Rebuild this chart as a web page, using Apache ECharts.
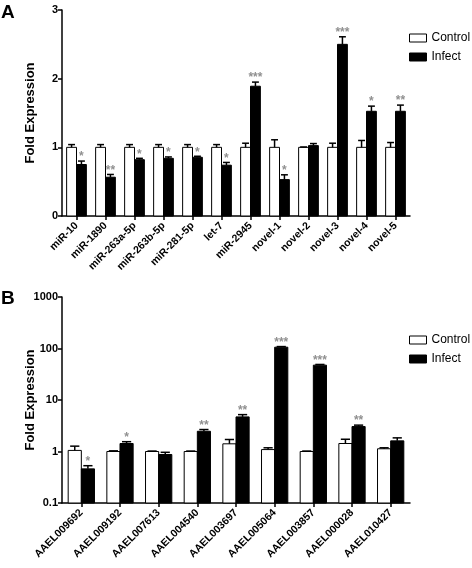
<!DOCTYPE html>
<html>
<head>
<meta charset="utf-8">
<script src="https://cdn.jsdelivr.net/npm/echarts@6/dist/echarts.min.js"></script>
<style>
html,body{margin:0;padding:0;background:#fff;}
#c{width:472px;height:568px;}
</style>
</head>
<body>
<div id="c"></div>
<script>
const catsA = ['miR-10','miR-1890','miR-263a-5p','miR-263b-5p','miR-281-5p','let-7','miR-2945','novel-1','novel-2','novel-3','novel-4','novel-5'];
const ctrlA = [1,1,1,1,1,1,1,1,1,1,1,1];
const ctrlErrA = [0.04,0.04,0.04,0.04,0.04,0.04,0.06,0.11,0.005,0.06,0.1,0.07];
const infA = [0.75,0.565,0.82,0.84,0.855,0.74,1.89,0.53,1.025,2.5,1.525,1.525];
const infErrA = [0.05,0.04,0.02,0.02,0.015,0.04,0.06,0.07,0.03,0.11,0.075,0.09];
const sigA = ['*','**','*','*','*','*','***','*','','***','*','**'];

const catsB = ['AAEL009692','AAEL009192','AAEL007613','AAEL004540','AAEL003697','AAEL005064','AAEL003857','AAEL000028','AAEL010427'];
const ctrlB = [1.05,1.0,1.0,1.0,1.41,1.09,1.0,1.43,1.13];
const ctrlErrB = [0.22,0.03,0.02,0.02,0.3,0.09,0.02,0.3,0.05];
const infB = [0.46,1.43,0.875,2.47,4.7,106,47.5,3.05,1.61];
const infErrB = [0.07,0.12,0.09,0.2,0.5,3,1.5,0.2,0.23];
const sigB = ['*','*','','**','**','***','***','**',''];

const FONT = 'Liberation Sans, Arial, sans-serif';
const BW = 0.34;

function barRender(side, base) {
  return function (params, api) {
    const idx = api.value(0), v = api.value(1);
    const top = api.coord([idx, v]);
    const bot = api.coord([idx, base]);
    const band = api.size([1, 0])[0];
    const bw = band * BW;
    const x = side < 0 ? top[0] - bw : top[0];
    return {
      type: 'rect',
      shape: { x: x, y: top[1], width: bw, height: bot[1] - top[1] },
      style: side < 0 ? { fill: '#fff', stroke: '#000', lineWidth: 1 } : { fill: '#000', stroke: '#000', lineWidth: 1 }
    };
  };
}
function errRender(side, sigs) {
  return function (params, api) {
    const idx = api.value(0), v = api.value(1), e = api.value(2);
    const band = api.size([1, 0])[0];
    const bw = band * BW;
    const top = api.coord([idx, v]);
    const cap = api.coord([idx, v + e]);
    const cx = top[0] + side * bw / 2;
    const cw = bw * 0.35;
    const children = [
      { type: 'line', shape: { x1: cx, y1: top[1], x2: cx, y2: cap[1] }, style: { stroke: '#000', lineWidth: 1.5 } },
      { type: 'line', shape: { x1: cx - cw, y1: cap[1], x2: cx + cw, y2: cap[1] }, style: { stroke: '#000', lineWidth: 1.5 } }
    ];
    const s = sigs ? sigs[idx] : '';
    if (s) {
      children.push({ type: 'text', x: cx, y: cap[1] - 4, style: { text: s, fill: '#909090', font: 'bold 12px ' + FONT, align: 'center', verticalAlign: 'middle' } });
    }
    return { type: 'group', children: children };
  };
}

function mk(arr) { return arr.map((v, i) => [i, v]); }
function mkE(arr, err) { return arr.map((v, i) => [i, v, err[i]]); }

const axisLabelY = { color: '#000', fontSize: 11, fontWeight: 'bold', fontFamily: FONT, margin: 4, formatter: function (v) { return String(v); } };
const axisLabelX = { color: '#000', fontSize: 10.5, fontWeight: 'bold', fontFamily: FONT, rotate: 45, margin: 8, interval: 0 };
const axisLineS = { show: true, lineStyle: { color: '#000', width: 1.5 } };
const tickS = { show: true, length: 4, lineStyle: { color: '#000', width: 1.5 } };
const nameS = { color: '#000', fontSize: 13, fontWeight: 'bold', fontFamily: FONT };

const option = {
  animation: false,
  backgroundColor: '#fff',
  graphic: [
    { type: 'text', left: 1, top: 3, style: { text: 'A', font: 'bold 19px ' + FONT, fill: '#000' } },
    { type: 'text', left: 1, top: 289, style: { text: 'B', font: 'bold 19px ' + FONT, fill: '#000' } }
  ],
  legend: [
    { orient: 'vertical', left: 404, top: 27, itemWidth: 17, itemHeight: 8, itemGap: 7,
      textStyle: { color: '#000', fontSize: 12, fontFamily: FONT },
      data: [{ name: 'Control', icon: 'rect', itemStyle: { color: '#fff', borderColor: '#000', borderWidth: 1 } },
             { name: 'Infect', icon: 'rect', itemStyle: { color: '#000', borderColor: '#000', borderWidth: 1 } }] },
    { orient: 'vertical', left: 404, top: 329, itemWidth: 17, itemHeight: 8, itemGap: 7,
      textStyle: { color: '#000', fontSize: 12, fontFamily: FONT },
      data: [{ name: 'Control', icon: 'rect', itemStyle: { color: '#fff', borderColor: '#000', borderWidth: 1 } },
             { name: 'Infect', icon: 'rect', itemStyle: { color: '#000', borderColor: '#000', borderWidth: 1 } }] }
  ],
  grid: [
    { left: 62, top: 10, right: 62, height: 206 },
    { left: 62, top: 297, right: 62, height: 206 }
  ],
  xAxis: [
    { type: 'category', gridIndex: 0, data: catsA, axisLine: axisLineS, axisTick: Object.assign({ alignWithLabel: true }, tickS), axisLabel: axisLabelX, splitLine: { show: false } },
    { type: 'category', gridIndex: 1, data: catsB, axisLine: axisLineS, axisTick: Object.assign({ alignWithLabel: true }, tickS), axisLabel: axisLabelX, splitLine: { show: false } }
  ],
  yAxis: [
    { type: 'value', gridIndex: 0, min: 0, max: 3, interval: 1, name: 'Fold Expression', nameLocation: 'middle', nameGap: 25, nameMoveOverlap: false, nameTextStyle: nameS,
      axisLine: axisLineS, axisTick: tickS, axisLabel: axisLabelY, splitLine: { show: false } },
    { type: 'log', gridIndex: 1, min: 0.1, max: 1000, logBase: 10, name: 'Fold Expression', nameLocation: 'middle', nameGap: 25, nameMoveOverlap: false, nameTextStyle: nameS,
      axisLine: axisLineS, axisTick: tickS, axisLabel: axisLabelY, splitLine: { show: false }, minorTick: { show: false } }
  ],
  series: [
    { name: 'Control', type: 'custom', xAxisIndex: 0, yAxisIndex: 0, renderItem: barRender(-1, 0), data: mk(ctrlA), itemStyle: { color: '#fff', borderColor: '#000' }, z: 2 },
    { name: 'Infect', type: 'custom', xAxisIndex: 0, yAxisIndex: 0, renderItem: barRender(1, 0), data: mk(infA), itemStyle: { color: '#000' }, z: 2 },
    { name: 'Control', type: 'custom', xAxisIndex: 0, yAxisIndex: 0, renderItem: errRender(-1, null), data: mkE(ctrlA, ctrlErrA), z: 3 },
    { name: 'Infect', type: 'custom', xAxisIndex: 0, yAxisIndex: 0, renderItem: errRender(1, sigA), data: mkE(infA, infErrA), z: 3 },
    { name: 'Control', type: 'custom', xAxisIndex: 1, yAxisIndex: 1, renderItem: barRender(-1, 0.1), data: mk(ctrlB), itemStyle: { color: '#fff', borderColor: '#000' }, z: 2 },
    { name: 'Infect', type: 'custom', xAxisIndex: 1, yAxisIndex: 1, renderItem: barRender(1, 0.1), data: mk(infB), itemStyle: { color: '#000' }, z: 2 },
    { name: 'Control', type: 'custom', xAxisIndex: 1, yAxisIndex: 1, renderItem: errRender(-1, null), data: mkE(ctrlB, ctrlErrB), z: 3 },
    { name: 'Infect', type: 'custom', xAxisIndex: 1, yAxisIndex: 1, renderItem: errRender(1, sigB), data: mkE(infB, infErrB), z: 3 }
  ]
};
const chart = echarts.init(document.getElementById('c'), null, { renderer: 'canvas' });
chart.setOption(option);
</script>
</body>
</html>
